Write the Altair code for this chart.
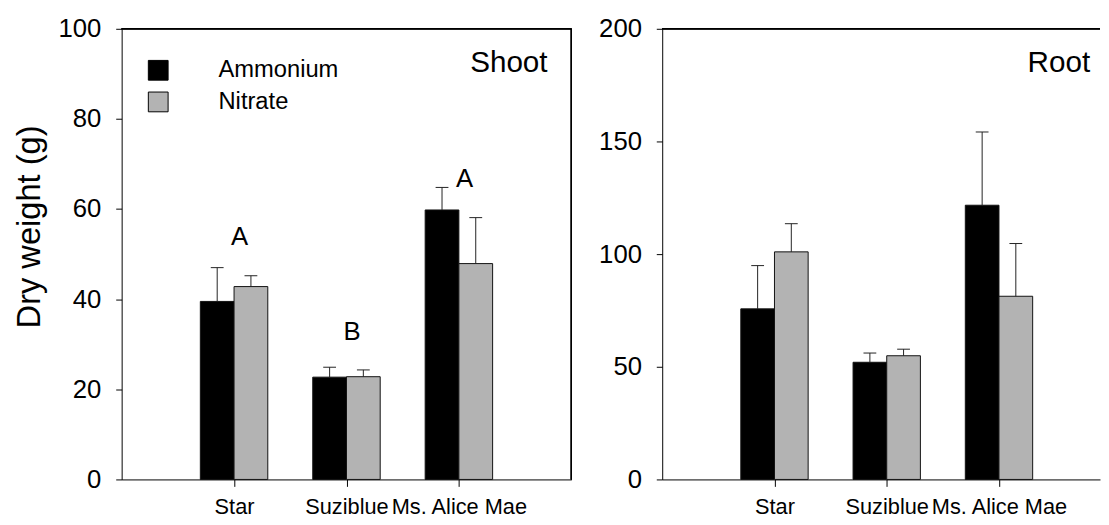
import json
import altair as alt
import pandas as pd

categories = ["Star", "Suziblue", "Ms. Alice Mae"]
treatments = ["Ammonium", "Nitrate"]
bar_colors = ["#000000", "#b3b3b3"]

shoot_ammonium = [39.5, 22.7, 59.8]
shoot_ammonium_err = [7.5, 2.2, 5.0]
shoot_nitrate = [42.8, 22.8, 47.9]
shoot_nitrate_err = [2.4, 1.5, 10.2]

root_ammonium = [75.7, 52.0, 121.7]
root_ammonium_err = [19.2, 4.1, 32.5]
root_nitrate = [101.0, 54.9, 81.3]
root_nitrate_err = [12.5, 2.9, 23.4]

shoot_letters = ["A", "B", "A"]
shoot_letter_y = [52, 31, 65]

panel_names = ["Shoot", "Root"]

FONT = "Liberation Sans"
BAR_W = 0.3
CAP_HALF = 0.057


def make_df(amm, amm_err, nit, nit_err):
    rows = []
    for i, cat in enumerate(categories):
        pos = i + 1
        for t, vals, errs, x0, x1 in [
            ("Ammonium", amm, amm_err, pos - BAR_W, pos),
            ("Nitrate", nit, nit_err, pos, pos + BAR_W),
        ]:
            xc = (x0 + x1) / 2
            rows.append(
                dict(category=cat, treatment=t, value=vals[i], top=vals[i] + errs[i],
                     x0=x0, x1=x1, xc=xc, cl=xc - CAP_HALF, cr=xc + CAP_HALF)
            )
    return pd.DataFrame(rows)


label_expr = json.dumps(categories) + "[datum.value - 1]"


def panel(df, ymax, yticks, xmax, width, title, name, show_legend, letters=None):
    xscale = alt.Scale(domain=[0, xmax], nice=False, zero=False)
    yscale = alt.Scale(domain=[0, ymax], nice=False)
    xaxis = alt.Axis(values=[1, 2, 3], labelExpr=label_expr, title=None, grid=False,
                     labelOverlap=False, labelFlush=False, labelBound=False,
                     tickSize=7, labelFontSize=22, labelPadding=10,
                     domainColor="black", tickColor="black", labelColor="black",
                     labelFont=FONT)
    yaxis_kw = dict(values=yticks, grid=False, tickSize=6,
                    labelFontSize=26, labelPadding=15, labelFont=FONT,
                    labelColor="black", domainColor="black", tickColor="black",
                    labelFlush=False)
    if title:
        yaxis = alt.Axis(title=title, titleFontSize=33, titleFontWeight="normal",
                         titleFont=FONT, titleColor="black", titlePadding=12,
                         titleY=200, **yaxis_kw)
    else:
        yaxis = alt.Axis(title=None, **yaxis_kw)
    if show_legend:
        legend = alt.Legend(title=None, orient="none", legendX=25, legendY=30,
                            symbolType="square", symbolSize=400, symbolStrokeColor="black",
                            symbolStrokeWidth=1, symbolOpacity=1, labelFontSize=24,
                            labelFont=FONT, labelColor="black", labelOffset=49,
                            rowPadding=8, padding=0)
    else:
        legend = None
    bars = alt.Chart(df).mark_bar(stroke="#111111", strokeWidth=1, opacity=1).encode(
        x=alt.X("x0:Q", scale=xscale, axis=xaxis),
        x2="x1:Q",
        y=alt.Y("value:Q", scale=yscale, axis=yaxis),
        y2=alt.datum(0),
        color=alt.Color("treatment:N", scale=alt.Scale(domain=treatments, range=bar_colors),
                        legend=legend),
    )
    err = alt.Chart(df).mark_rule(color="#222222", strokeWidth=1).encode(
        x="xc:Q", y="value:Q", y2="top:Q")
    caps = alt.Chart(df).mark_rule(color="#222222", strokeWidth=1).encode(
        x="cl:Q", x2="cr:Q", y="top:Q")
    top_line = alt.Chart(df).mark_rule(color="black", strokeWidth=1).encode(
        y=alt.datum(ymax), x=alt.value(0), x2=alt.value(width))
    layers = [bars, err, caps, top_line]
    if xmax >= 4:
        right_line = alt.Chart(df).mark_rule(color="black", strokeWidth=1).encode(
            x=alt.datum(xmax), y=alt.value(0), y2=alt.value(456))
        layers.append(right_line)
    name_df = pd.DataFrame({"name": [name]})
    name_text = alt.Chart(name_df).mark_text(
        align="right", baseline="alphabetic", fontSize=30, font=FONT, color="black"
    ).encode(x=alt.value(width - 24 if xmax >= 4 else width - 10), y=alt.value(44), text="name:N")
    layers.append(name_text)
    if letters is not None:
        ldf = pd.DataFrame({"letter": letters[0], "y": letters[1],
                            "x": [i + 1.05 for i in range(len(categories))]})
        ltext = alt.Chart(ldf).mark_text(
            align="center", baseline="alphabetic", fontSize=26, font=FONT, color="black"
        ).encode(x="x:Q", y="y:Q", text="letter:N")
        layers.append(ltext)
    return alt.layer(*layers).properties(width=width, height=456)


shoot_df = make_df(shoot_ammonium, shoot_ammonium_err, shoot_nitrate, shoot_nitrate_err)
root_df = make_df(root_ammonium, root_ammonium_err, root_nitrate, root_nitrate_err)

left = panel(shoot_df, 100, [0, 20, 40, 60, 80, 100], 4, 455, "Dry weight (g)", panel_names[0],
             True, letters=(shoot_letters, shoot_letter_y))
right = panel(root_df, 200, [0, 50, 100, 150, 200], 3.9, 443, None, panel_names[1], False)

chart = alt.hconcat(left, right, spacing=26).resolve_scale(
    x="independent", y="independent", color="shared"
).properties(
    padding={"left": 5, "top": 5, "right": 0, "bottom": 0},
    background="white",
).configure_view(strokeWidth=0)

chart.save("out.html", embed_options={"renderer": "svg", "actions": False})
